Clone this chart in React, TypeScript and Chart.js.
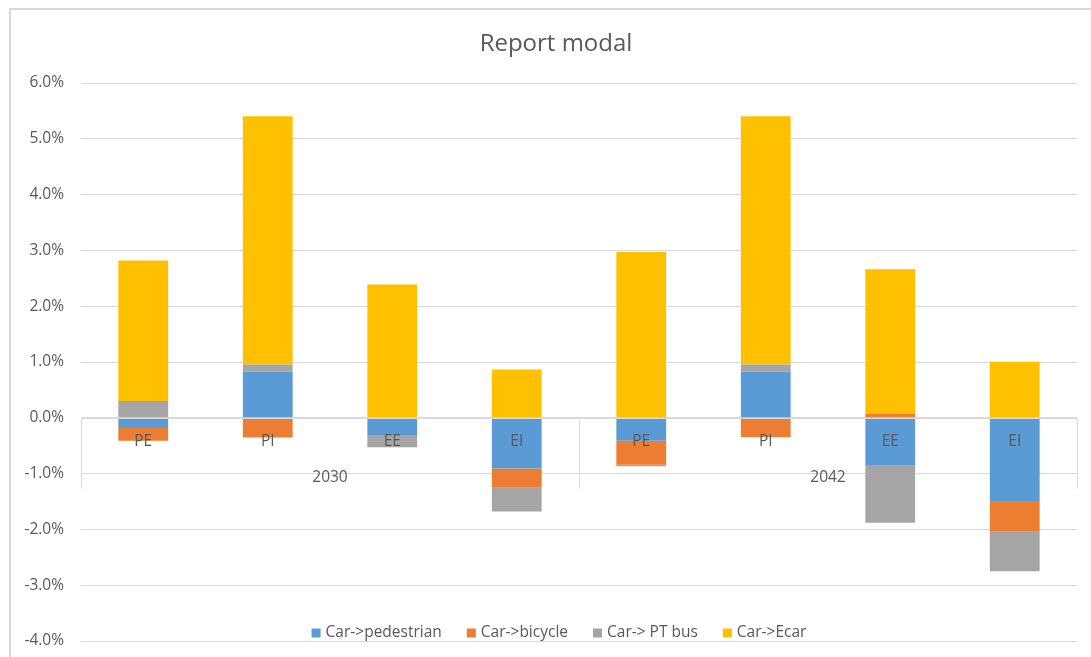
import React, { useEffect, useRef } from "react";
import { Chart, registerables } from "chart.js";

Chart.register(...registerables);

const title = "Report modal";
const categories = ["PE", "PI", "EE", "EI", "PE", "PI", "EE", "EI"];
const groups = ["2030", "2042"];
const seriesNames = ["Car->pedestrian", "Car->bicycle", "Car-> PT bus", "Car->Ecar"];
const pedestrian = [-0.185, 0.824, -0.31, -0.907, -0.41, 0.824, -0.86, -1.493];
const bicycle = [-0.225, -0.352, 0, -0.347, -0.43, -0.35, 0.07, -0.549];
const ptBus = [0.30, 0.13, -0.22, -0.424, -0.03, 0.13, -1.02, -0.71];
const ecar = [2.52, 4.45, 2.39, 0.866, 2.97, 4.45, 2.59, 1.003];
const yTicksMin = -4;
const yTicksMax = 6;

const COLORS = ["#5B9BD5", "#ED7D31", "#A5A5A5", "#FFC000"];
const TEXT = "#595959";
const GRID = "#D9D9D9";
const FONT = "'Open Sans', 'Noto Sans', sans-serif";
const CENTER_X = 556;

const overlay = {
  id: "overlay",
  afterDatasetsDraw(chart: any) {
    const { ctx, scales, chartArea } = chart;
    const x = scales.x;
    const y = scales.y;
    const y0 = Math.round(y.getPixelForValue(0)) + 0.5;
    ctx.save();
    ctx.strokeStyle = GRID;
    ctx.lineWidth = 1;
    ctx.beginPath();
    ctx.moveTo(chartArea.left, y0);
    ctx.lineTo(chartArea.right, y0);
    const per = categories.length / groups.length;
    const seps: number[] = [chartArea.left];
    for (let g = 1; g < groups.length; g++) {
      seps.push((x.getPixelForValue(g * per - 1) + x.getPixelForValue(g * per)) / 2);
    }
    seps.push(chartArea.right);
    seps.forEach((sx) => {
      const px = Math.round(sx) + 0.5;
      ctx.moveTo(px, y0);
      ctx.lineTo(px, y0 + 70);
    });
    ctx.stroke();

    ctx.fillStyle = TEXT;
    ctx.font = `15.5px ${FONT}`;
    ctx.textAlign = "center";
    ctx.textBaseline = "middle";
    categories.forEach((c, i) => {
      ctx.fillText(c, x.getPixelForValue(i), y0 + 23);
    });
    groups.forEach((g, gi) => {
      const xs = (x.getPixelForValue(gi * per) + x.getPixelForValue(gi * per + per - 1)) / 2;
      ctx.fillText(g, xs, y0 + 59);
    });
    ctx.restore();
  },
  afterDraw(chart: any) {
    const { ctx } = chart;
    ctx.save();
    ctx.fillStyle = TEXT;
    ctx.textBaseline = "middle";
    ctx.textAlign = "center";
    ctx.font = `24px ${FONT}`;
    ctx.fillText(title, CENTER_X, 44);

    // legend
    ctx.font = `15.5px ${FONT}`;
    const box = 9;
    const gapText = 5;
    const gapItem = 25;
    const widths = chart.data.datasets.map((d: any) => ctx.measureText(d.label).width);
    const total =
      widths.reduce((a: number, b: number) => a + b, 0) +
      chart.data.datasets.length * (box + gapText) +
      (chart.data.datasets.length - 1) * gapItem;
    let cx = CENTER_X + 3 - total / 2;
    const ly = 633;
    ctx.textAlign = "left";
    chart.data.datasets.forEach((d: any, i: number) => {
      ctx.fillStyle = d.backgroundColor;
      ctx.fillRect(cx, ly - box / 2, box, box);
      cx += box + gapText;
      ctx.fillStyle = TEXT;
      ctx.fillText(d.label, cx, ly);
      cx += widths[i] + gapItem;
    });
    ctx.restore();
  },
};

export default function App() {
  const ref = useRef<HTMLCanvasElement | null>(null);
  useEffect(() => {
    if (!ref.current) return;
    const seriesData = [pedestrian, bicycle, ptBus, ecar];
    const chart = new Chart(ref.current, {
      type: "bar",
      data: {
        labels: categories,
        datasets: seriesNames.map((name, i) => ({
          label: name,
          data: seriesData[i],
          backgroundColor: COLORS[i],
          borderWidth: 0,
          barPercentage: 0.4,
          categoryPercentage: 1,
        })),
      },
      options: {
        animation: false,
        responsive: false,
        devicePixelRatio: 1,
        layout: { padding: { top: 83, right: 14, bottom: 16, left: 0 } },
        plugins: {
          legend: { display: false },
          title: { display: false },
          tooltip: { enabled: false },
        },
        scales: {
          x: {
            display: false,
            stacked: true,
          },
          y: {
            stacked: true,
            min: yTicksMin,
            max: yTicksMax,
            afterFit: (s: any) => {
              s.width = 81;
            },
            border: { display: false },
            grid: {
              color: GRID,
              lineWidth: 1,
              drawTicks: true,
              tickLength: 17,
              tickColor: "rgba(0,0,0,0)",
            },
            ticks: {
              stepSize: 1,
              padding: 0,
              color: TEXT,
              font: { family: FONT, size: 15.5 },
              callback: (v: any) => Number(v).toFixed(1) + "%",
            },
          },
        },
      },
      plugins: [overlay],
    });
    return () => chart.destroy();
  }, []);

  return (
    <>
      <div
        style={{
          position: "fixed",
          left: 9,
          top: 8,
          width: 1200,
          height: 800,
          borderLeft: "2px solid #D9D9D9",
          borderTop: "2px solid #D9D9D9",
          background: "#fff",
        }}
      />
      <div style={{ position: "fixed", left: 0, top: 0, width: 1091, height: 657 }}>
        <canvas ref={ref} width={1091} height={657} style={{ display: "block" }} />
      </div>
    </>
  );
}
